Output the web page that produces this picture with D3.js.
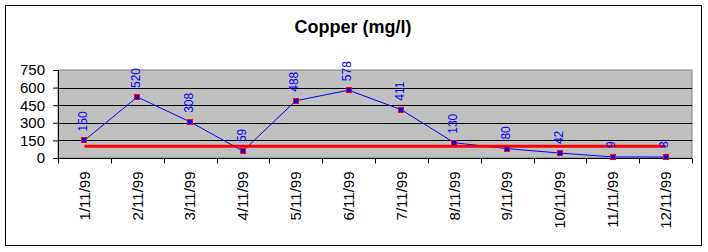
<!DOCTYPE html>
<html>
<head>
<meta charset="utf-8">
<script src="https://cdn.jsdelivr.net/npm/d3@7"></script>
<style>
  body { margin: 0; background: #fff; }
  svg { display: block; font-family: "Liberation Sans", Arial, sans-serif; }
</style>
</head>
<body>
<script>
// DATA
var dates = ["1/11/99", "2/11/99", "3/11/99", "4/11/99", "5/11/99", "6/11/99",
             "7/11/99", "8/11/99", "9/11/99", "10/11/99", "11/11/99", "12/11/99"];
var copper = [150, 520, 308, 59, 488, 578, 411, 130, 80, 42, 9, 8];
var limit = [100, 100, 100, 100, 100, 100, 100, 100, 100, 100, 100, 100];
var yTicks = [0, 150, 300, 450, 600, 750];

var svg = d3.select("body").append("svg")
    .attr("width", 708)
    .attr("height", 252);

// outer chart border
svg.append("rect")
    .attr("x", 5.5).attr("y", 5.5)
    .attr("width", 696).attr("height", 240)
    .attr("fill", "#fff")
    .attr("stroke", "#000");

svg.append("text")
    .attr("x", 353).attr("y", 33)
    .attr("text-anchor", "middle")
    .attr("font-size", 18)
    .attr("font-weight", "bold")
    .text("Copper (mg/l)");

const margin = {top: 70, left: 58, right: 16, bottom: 94};
const width = 708 - margin.left - margin.right;
const height = 252 - margin.top - margin.bottom;

const x = d3.scaleBand().domain(dates).range([0, width]);
const y = d3.scaleLinear().domain([0, 750]).range([height, 0]);

const g = svg.append("g")
    .attr("transform", "translate(" + margin.left + "," + margin.top + ")");

// plot area
g.append("rect")
    .attr("width", width).attr("height", height)
    .attr("fill", "#c0c0c0")
    .attr("stroke", "#808080");

// gridlines
g.selectAll(".grid").data(yTicks.filter(d => d > 0 && d < 750))
    .enter().append("line")
    .attr("x1", 0).attr("x2", width)
    .attr("y1", d => Math.round(y(d)) + 0.5)
    .attr("y2", d => Math.round(y(d)) + 0.5)
    .attr("stroke", "#000");

// y axis
const yAxis = g.append("g")
    .call(d3.axisLeft(y).tickValues(yTicks).tickSize(5).tickPadding(8));
yAxis.select(".domain").attr("d", "M0.5," + height + "V0");
yAxis.selectAll("text").attr("font-size", 15).attr("font-family", "Liberation Sans, Arial, sans-serif");

// x axis with ticks at band edges
const xAxis = g.append("g")
    .attr("transform", "translate(0," + (height + 0.5) + ")");
xAxis.append("line")
    .attr("x1", 0).attr("x2", width)
    .attr("stroke", "#000");
xAxis.selectAll(".tk").data(dates.concat(["end"]))
    .enter().append("line")
    .attr("x1", (d, i) => Math.round(i * x.bandwidth()) + 0.5)
    .attr("x2", (d, i) => Math.round(i * x.bandwidth()) + 0.5)
    .attr("y1", 0).attr("y2", 5)
    .attr("stroke", "#000");
xAxis.selectAll(".lbl").data(dates)
    .enter().append("text")
    .attr("transform", d => "translate(" + (x(d) + x.bandwidth() / 2) + ",13) rotate(-90)")
    .attr("text-anchor", "end")
    .attr("dy", "0.35em")
    .attr("font-size", 15)
    .text(d => d);

const cx = (d, i) => x(dates[i]) + x.bandwidth() / 2;

// copper series
g.append("path")
    .datum(copper)
    .attr("fill", "none")
    .attr("stroke", "#0000ff")
    .attr("stroke-width", 1)
    .attr("d", d3.line().x(cx).y(d => y(d)));

// limit line
g.append("path")
    .datum(limit)
    .attr("fill", "none")
    .attr("stroke", "#ff0000")
    .attr("stroke-width", 3)
    .attr("d", d3.line().x(cx).y(d => y(d)));

// markers
g.selectAll(".mk").data(copper)
    .enter().append("rect")
    .attr("x", (d, i) => Math.round(cx(d, i)) - 2.5)
    .attr("y", d => Math.round(y(d)) - 2.5)
    .attr("width", 5).attr("height", 5)
    .attr("fill", "#0000ff")
    .attr("stroke", "#ff0000")
    .attr("stroke-width", 1);

// data labels
g.selectAll(".dl").data(copper)
    .enter().append("text")
    .attr("transform", (d, i) => "translate(" + (cx(d, i) - 1.5) + "," + (y(d) - 9) + ") rotate(-90)")
    .attr("text-anchor", "start")
    .attr("dy", "0.35em")
    .attr("font-size", 12)
    .attr("fill", "#0000ff")
    .text(d => d);
</script>
</body>
</html>
